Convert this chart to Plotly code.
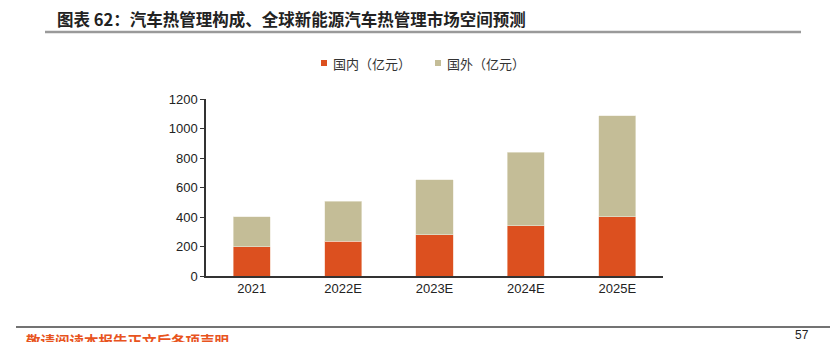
import plotly.graph_objects as go

categories = ["2021", "2022E", "2023E", "2024E", "2025E"]
domestic = [200, 237, 281, 341, 402]
foreign = [203, 271, 370, 498, 685]
tick_vals = [0, 200, 400, 600, 800, 1000, 1200]
series_names = ["国内（亿元）", "国外（亿元）"]
series_colors = ["#DC501F", "#C4BD97"]

L, R, T, B = 206, 174, 99, 66
W, H = 837, 342
pw, ph = W - L - R, H - T - B

def px(x):
    return (x - L) / pw

def py(y):
    return (H - B - y) / ph

fig = go.Figure()
fig.add_trace(go.Bar(x=categories, y=domestic, name=series_names[0], showlegend=False,
                     marker=dict(color=series_colors[0], line=dict(color="#F3C9B5", width=0.6))))
fig.add_trace(go.Bar(x=categories, y=foreign, name=series_names[1], showlegend=False,
                     marker=dict(color=series_colors[1], line=dict(color="#ECE9DC", width=0.6))))

font_cjk = "Noto Sans CJK SC"

# legend (drawn manually to match compact swatches)
legend_x = [321, 435]
shapes = [
    dict(type="line", xref="paper", yref="paper", x0=px(45), x1=px(801),
         y0=py(32), y1=py(32), line=dict(color="#9a9a9a", width=2.5)),
    dict(type="line", xref="paper", yref="paper", x0=px(16), x1=px(830),
         y0=py(327), y1=py(327), line=dict(color="#444", width=1.5)),
]
annotations = []
for lx, name, col in zip(legend_x, series_names, series_colors):
    shapes.append(dict(type="rect", xref="paper", yref="paper",
                       x0=px(lx), x1=px(lx + 6), y0=py(66), y1=py(60),
                       fillcolor=col, line=dict(width=0)))
    annotations.append(dict(text=name, xref="paper", yref="paper", x=px(lx + 10), y=py(63),
                            xanchor="left", yanchor="middle", showarrow=False,
                            font=dict(family=font_cjk, size=13, color="#333")))

annotations += [
    dict(text="<b>图表 62：汽车热管理构成、全球新能源汽车热管理市场空间预测</b>",
         xref="paper", yref="paper", x=px(55), y=py(19), xanchor="left", yanchor="middle",
         showarrow=False, font=dict(family=font_cjk, size=16.5, color="#222")),
    dict(text="<b>敬请阅读本报告正文后各项声明</b>",
         xref="paper", yref="paper", x=px(24), y=py(340), xanchor="left", yanchor="middle",
         showarrow=False, font=dict(family=font_cjk, size=14.5, color="#E8541E")),
    dict(text="57", xref="paper", yref="paper", x=px(811), y=py(335),
         xanchor="right", yanchor="middle", showarrow=False,
         font=dict(family="Liberation Sans", size=12, color="#222")),
]

fig.update_layout(
    width=W, height=H,
    margin=dict(l=L, r=R, t=T, b=B),
    barmode="stack", bargap=0.595,
    plot_bgcolor="white", paper_bgcolor="white",
    font=dict(family="Liberation Sans, Arial", size=13, color="#222"),
    showlegend=False,
    xaxis=dict(showline=True, linecolor="#333", linewidth=1.5, ticks="",
               tickfont=dict(size=13, color="#222")),
    yaxis=dict(range=[0, 1200], tickvals=tick_vals, showgrid=False,
               showline=True, linecolor="#333", linewidth=1.5,
               ticks="outside", ticklen=4, tickcolor="#333",
               tickfont=dict(size=13, color="#222"), zeroline=False),
    shapes=shapes,
    annotations=annotations,
)

fig.write_html("out.html")
